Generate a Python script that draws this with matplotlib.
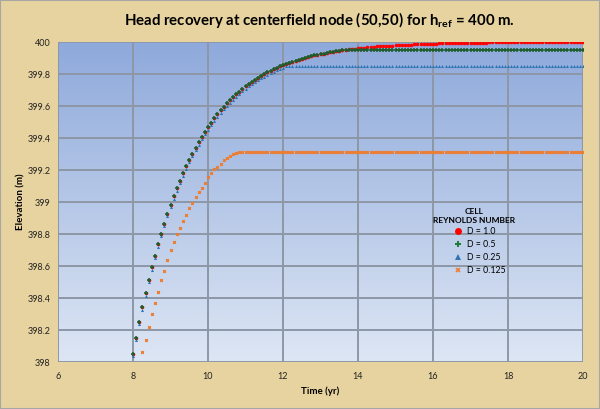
import numpy as np
import matplotlib
matplotlib.use("Agg")
import matplotlib.pyplot as plt
from matplotlib.colors import LinearSegmentedColormap
from matplotlib.lines import Line2D
from matplotlib.patches import Rectangle

plt.rcParams['font.family'] = ['Lato', 'DejaVu Sans']
plt.rcParams['mathtext.fontset'] = 'custom'
plt.rcParams['mathtext.rm'] = 'Lato:bold'

# monthly output, 8 yr .. 20 yr
months = np.arange(96, 241)
years = months / 12.0

# D = 1.0
head_d10 = [
    398.050, 398.153, 398.250, 398.342, 398.430, 398.512, 398.591, 398.665, 398.735, 398.802, 398.865, 398.925,
    398.982, 399.035, 399.086, 399.134, 399.180, 399.223, 399.264, 399.303, 399.340, 399.374, 399.407, 399.439,
    399.468, 399.496, 399.523, 399.548, 399.572, 399.594, 399.616, 399.636, 399.655, 399.673, 399.690, 399.707,
    399.722, 399.737, 399.751, 399.764, 399.776, 399.788, 399.799, 399.810, 399.820, 399.829, 399.838, 399.847,
    399.855, 399.863, 399.870, 399.877, 399.883, 399.889, 399.895, 399.901, 399.906, 399.911, 399.916, 399.920,
    399.924, 399.928, 399.932, 399.936, 399.939, 399.942, 399.945, 399.948, 399.951, 399.954, 399.956, 399.958,
    399.960, 399.963, 399.965, 399.966, 399.968, 399.970, 399.972, 399.973, 399.974, 399.976, 399.977, 399.978,
    399.979, 399.980, 399.981, 399.982, 399.983, 399.984, 399.985, 399.986, 399.987, 399.987, 399.988, 399.989,
    399.990, 399.990, 399.991, 399.991, 399.992, 399.992, 399.993, 399.993, 399.994, 399.994, 399.994, 399.995,
    399.995, 399.995, 399.996, 399.996, 399.996, 399.996, 399.997, 399.997, 399.997, 399.997, 399.997, 399.998,
    399.998, 399.998, 399.998, 399.998, 399.998, 399.998, 399.998, 399.998, 399.998, 399.998, 399.998, 399.998,
    399.998, 399.998, 399.998, 399.999, 399.999, 399.999, 399.999, 399.999, 399.999, 399.999, 399.999, 399.999,
    399.999,
]

# D = 0.5
head_d05 = [
    398.050, 398.153, 398.250, 398.342, 398.430, 398.512, 398.591, 398.665, 398.735, 398.802, 398.865, 398.925,
    398.982, 399.035, 399.086, 399.134, 399.180, 399.223, 399.264, 399.303, 399.340, 399.374, 399.407, 399.439,
    399.468, 399.496, 399.523, 399.548, 399.572, 399.594, 399.616, 399.636, 399.655, 399.673, 399.690, 399.707,
    399.722, 399.737, 399.751, 399.764, 399.776, 399.788, 399.799, 399.810, 399.820, 399.829, 399.838, 399.847,
    399.855, 399.863, 399.870, 399.877, 399.883, 399.889, 399.895, 399.901, 399.906, 399.911, 399.916, 399.920,
    399.924, 399.928, 399.932, 399.936, 399.939, 399.942, 399.945, 399.948, 399.950, 399.950, 399.950, 399.950,
    399.950, 399.950, 399.950, 399.950, 399.950, 399.950, 399.950, 399.950, 399.950, 399.950, 399.950, 399.950,
    399.950, 399.950, 399.950, 399.950, 399.950, 399.950, 399.950, 399.950, 399.950, 399.950, 399.950, 399.950,
    399.950, 399.950, 399.950, 399.950, 399.950, 399.950, 399.950, 399.950, 399.950, 399.950, 399.950, 399.950,
    399.950, 399.950, 399.950, 399.950, 399.950, 399.950, 399.950, 399.950, 399.950, 399.950, 399.950, 399.950,
    399.950, 399.950, 399.950, 399.950, 399.950, 399.950, 399.950, 399.950, 399.950, 399.950, 399.950, 399.950,
    399.950, 399.950, 399.950, 399.950, 399.950, 399.950, 399.950, 399.950, 399.950, 399.950, 399.950, 399.950,
    399.950,
]

# D = 0.25
head_d025 = [
    398.035, 398.138, 398.235, 398.327, 398.415, 398.497, 398.576, 398.650, 398.720, 398.787, 398.850, 398.910,
    398.967, 399.020, 399.071, 399.119, 399.165, 399.208, 399.249, 399.288, 399.325, 399.359, 399.392, 399.424,
    399.453, 399.481, 399.508, 399.533, 399.557, 399.579, 399.601, 399.621, 399.640, 399.658, 399.675, 399.692,
    399.707, 399.722, 399.736, 399.749, 399.761, 399.773, 399.784, 399.795, 399.805, 399.814, 399.823, 399.832,
    399.840, 399.848, 399.850, 399.850, 399.850, 399.850, 399.850, 399.850, 399.850, 399.850, 399.850, 399.850,
    399.850, 399.850, 399.850, 399.850, 399.850, 399.850, 399.850, 399.850, 399.850, 399.850, 399.850, 399.850,
    399.850, 399.850, 399.850, 399.850, 399.850, 399.850, 399.850, 399.850, 399.850, 399.850, 399.850, 399.850,
    399.850, 399.850, 399.850, 399.850, 399.850, 399.850, 399.850, 399.850, 399.850, 399.850, 399.850, 399.850,
    399.850, 399.850, 399.850, 399.850, 399.850, 399.850, 399.850, 399.850, 399.850, 399.850, 399.850, 399.850,
    399.850, 399.850, 399.850, 399.850, 399.850, 399.850, 399.850, 399.850, 399.850, 399.850, 399.850, 399.850,
    399.850, 399.850, 399.850, 399.850, 399.850, 399.850, 399.850, 399.850, 399.850, 399.850, 399.850, 399.850,
    399.850, 399.850, 399.850, 399.850, 399.850, 399.850, 399.850, 399.850, 399.850, 399.850, 399.850, 399.850,
    399.850,
]

# D = 0.125
head_d0125 = [
    397.800, 397.890, 397.980, 398.060, 398.140, 398.220, 398.300, 398.370, 398.440, 398.510, 398.570, 398.640,
    398.700, 398.750, 398.800, 398.840, 398.880, 398.920, 398.960, 398.995, 399.030, 399.060, 399.090, 399.120,
    399.155, 399.180, 399.205, 399.220, 399.240, 399.260, 399.275, 399.290, 399.300, 399.306, 399.314, 399.314,
    399.314, 399.314, 399.314, 399.314, 399.314, 399.314, 399.314, 399.314, 399.314, 399.314, 399.314, 399.314,
    399.314, 399.314, 399.314, 399.314, 399.314, 399.314, 399.314, 399.314, 399.314, 399.314, 399.314, 399.314,
    399.314, 399.314, 399.314, 399.314, 399.314, 399.314, 399.314, 399.314, 399.314, 399.314, 399.314, 399.314,
    399.314, 399.314, 399.314, 399.314, 399.314, 399.314, 399.314, 399.314, 399.314, 399.314, 399.314, 399.314,
    399.314, 399.314, 399.314, 399.314, 399.314, 399.314, 399.314, 399.314, 399.314, 399.314, 399.314, 399.314,
    399.314, 399.314, 399.314, 399.314, 399.314, 399.314, 399.314, 399.314, 399.314, 399.314, 399.314, 399.314,
    399.314, 399.314, 399.314, 399.314, 399.314, 399.314, 399.314, 399.314, 399.314, 399.314, 399.314, 399.314,
    399.314, 399.314, 399.314, 399.314, 399.314, 399.314, 399.314, 399.314, 399.314, 399.314, 399.314, 399.314,
    399.314, 399.314, 399.314, 399.314, 399.314, 399.314, 399.314, 399.314, 399.314, 399.314, 399.314, 399.314,
    399.314,
]

legend_labels = ['D = 1.0', 'D = 0.5', 'D = 0.25', 'D = 0.125']

fig = plt.figure(figsize=(6.0, 4.09), dpi=100)
fig.patch.set_facecolor('#E7D39F')
# thin grey frame round the picture
fig.patches.append(Rectangle((0, 0), 1, 1, transform=fig.transFigure, fill=False,
                             edgecolor='#A6A6A6', linewidth=1.5))

ax = fig.add_axes([58 / 600, 47 / 409, 525 / 600, 320 / 409])

# blue gradient plot area
grad = np.linspace(0, 1, 256).reshape(-1, 1)
cmap = LinearSegmentedColormap.from_list('bg', ['#8EA9DB', '#DDE6F4'])
ax.imshow(grad, extent=[0, 1, 0, 1], transform=ax.transAxes, aspect='auto',
          cmap=cmap, zorder=0)

ax.plot(years, head_d10, linestyle='none', marker='o', markersize=2.6,
        color='#FF0000', markeredgewidth=0, zorder=3)
ax.plot(years, head_d025, linestyle='none', marker='^', markersize=2.2,
        color='#2E75B6', markeredgewidth=0, zorder=3.5)
ax.plot(years, head_d05, linestyle='none', marker='+', markersize=2.8,
        color='#1E5E2E', markeredgewidth=1.1, zorder=4)
ax.plot(years, head_d0125, linestyle='none', marker='x', markersize=1.9,
        color='#ED7D31', markeredgewidth=1.0, zorder=4)

ax.set_xlim(6, 20)
ax.set_ylim(398, 400)
ax.set_xticks(np.arange(6, 21, 2))
ax.set_yticks(np.arange(398, 400.01, 0.2))
ax.set_yticklabels(['398', '398.2', '398.4', '398.6', '398.8', '399',
                    '399.2', '399.4', '399.6', '399.8', '400'])
ax.grid(True, color='#8D97A6', linewidth=1.4, zorder=1)
ax.set_axisbelow(True)
for s in ax.spines.values():
    s.set_visible(False)
ax.tick_params(length=0, labelsize=6.5, colors='#222222')
ax.tick_params(axis='y', pad=5.5)
ax.tick_params(axis='x', pad=7)

ax.set_xlabel('Time (yr)', fontsize=7, fontweight='bold', labelpad=4)
ax.set_ylabel('Elevation (m)', fontsize=7, fontweight='bold', labelpad=1)

fig.text(0.532, 0.951, r'Head recovery at centerfield node (50,50) for $\mathrm{h_{ref}}$ = 400 m.',
         ha='center', va='center', fontsize=10.8, fontweight='bold')

# legend
handles = [
    Line2D([], [], linestyle='none', marker='o', markersize=5, color='#FF0000', markeredgewidth=0),
    Line2D([], [], linestyle='none', marker='+', markersize=4, color='#1E7A35', markeredgewidth=1.4),
    Line2D([], [], linestyle='none', marker='^', markersize=5, color='#2E75B6', markeredgewidth=0),
    Line2D([], [], linestyle='none', marker='x', markersize=2.6, color='#ED7D31', markeredgewidth=1.2),
]
fig.text(474 / 600, 1 - 216 / 409, 'CELL\nREYNOLDS NUMBER', ha='center', va='center',
         multialignment='center', fontsize=6, fontweight='bold', linespacing=1.3)
fig.legend(handles, legend_labels, loc='upper left', bbox_to_anchor=(454 / 600, 1 - 227 / 409),
           frameon=False, fontsize=6.3, handlelength=1.0, handletextpad=0.5,
           labelspacing=0.45, borderpad=0, borderaxespad=0)

fig.savefig('out.png', dpi=100, facecolor=fig.get_facecolor())
